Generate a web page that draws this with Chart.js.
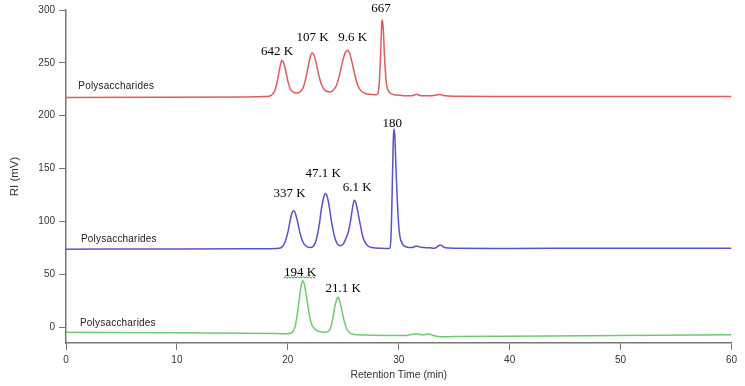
<!DOCTYPE html>
<html>
<head>
<meta charset="utf-8">
<script src="https://cdn.jsdelivr.net/npm/chart.js@4.4.1/dist/chart.umd.min.js"></script>
<style>
  html, body { margin: 0; padding: 0; background: #ffffff; }
  #wrap { width: 745px; height: 386px; }
</style>
</head>
<body>
<div id="wrap"><canvas id="c" width="745" height="386"></canvas></div>
<script>
// ---- Data ----
const redTimes  = [0, 8, 16, 18, 18.5, 18.8, 19.0, 19.2, 19.35, 19.47, 19.6, 19.8, 20.0, 20.2, 20.45, 20.8, 21.1, 21.4, 21.65, 21.9, 22.05, 22.2, 22.35, 22.55, 22.8, 23.05, 23.35, 23.8, 24.1, 24.4, 24.7, 24.95, 25.15, 25.35, 25.55, 25.8, 26.05, 26.3, 26.6, 27.0, 27.5, 27.95, 28.12, 28.25, 28.37, 28.47, 28.52, 28.6, 28.72, 28.85, 29.0, 29.3, 29.8, 30.5, 31.2, 31.6, 32.0, 32.8, 33.7, 34.2, 35, 40, 50, 60];
const redValues = [217.2, 217.5, 217.8, 218.1, 219.3, 223, 230, 241, 249, 252.5, 250.5, 243, 233, 226, 222.5, 221.5, 222.5, 227, 237, 250, 257, 259.5, 257.5, 250, 238, 229, 224, 222.5, 224, 229, 240, 252, 259, 262, 259.5, 250, 238, 229, 223.5, 221, 220.2, 219.8, 221, 232, 260, 288, 290.5, 283, 255, 234, 225, 221, 219.5, 219, 218.9, 220.3, 219, 218.8, 220, 218.8, 218.4, 218.2, 218.1, 218.2];

const blueTimes  = [0, 10, 18, 19.2, 19.5, 19.8, 20.05, 20.25, 20.4, 20.52, 20.65, 20.85, 21.05, 21.3, 21.6, 22.0, 22.3, 22.55, 22.85, 23.0, 23.2, 23.38, 23.55, 23.75, 23.95, 24.2, 24.45, 24.72, 25.0, 25.2, 25.45, 25.65, 25.85, 26.0, 26.15, 26.35, 26.55, 26.8, 27.2, 27.7, 28.4, 29.15, 29.3, 29.4, 29.5, 29.57, 29.65, 29.75, 29.85, 29.97, 30.1, 30.35, 30.7, 31.2, 31.6, 32.0, 32.8, 33.2, 33.75, 34.2, 35, 40, 50, 60];
const blueValues = [73.8, 74.0, 74.2, 74.6, 76.0, 82, 92, 103, 108.5, 110, 108.5, 101, 91, 82, 77, 75.3, 76.5, 82, 98, 110, 121.5, 126.5, 123.5, 113, 99, 86, 79, 77, 78.5, 83, 90, 100, 114, 120, 117, 107, 96, 84, 77, 75.2, 74.6, 74.4, 85, 125, 175, 187.5, 180, 150, 125, 100, 86, 78.5, 75.8, 75.3, 76.8, 75.5, 75, 74.6, 77.8, 75, 74.6, 74.5, 74.6, 74.7];

const greenTimes  = [0, 10, 19, 20.0, 20.4, 20.65, 20.85, 21.05, 21.2, 21.34, 21.5, 21.7, 21.9, 22.1, 22.4, 22.8, 23.3, 23.6, 23.85, 24.05, 24.25, 24.4, 24.51, 24.65, 24.85, 25.05, 25.3, 25.6, 26, 27, 29, 30.7, 31.64, 32.1, 32.7, 33.2, 33.75, 35, 40, 50, 60];
const greenValues = [-4.8, -5.4, -6.1, -6.2, -5, 0, 12, 28, 39, 44, 40, 28, 14, 4, -1.5, -4, -4.8, -4.3, -1, 8, 20, 26, 28.4, 25.5, 17, 7, -1.5, -5.5, -7, -7.5, -7.8, -7.8, -6.3, -7.2, -6.6, -8.2, -9.1, -8.9, -8.5, -7.8, -7.2];

const xTickValues = [0, 10, 20, 30, 40, 50, 60];
const yTickValues = [0, 50, 100, 150, 200, 250, 300];

// Peak annotations (text, retention time, signal value at text baseline)
const peakLabelTexts  = ['667', '642 K', '107 K', '9.6 K', '180', '47.1 K', '337 K', '6.1 K', '194 K', '21.1 K'];
const peakLabelTimes  = [28.39, 19.04, 22.24, 25.85, 29.41, 23.19, 20.15, 26.26, 21.11, 24.99];
const peakLabelValues = [298.1, 257.2, 270.7, 270.7, 189.4, 142.2, 122.8, 128.4, 48.75, 33.1];

// Trace name labels (left-aligned)
const traceLabelTexts  = ['Polysaccharides', 'Polysaccharides', 'Polysaccharides'];
const traceLabelTimes  = [1.11, 1.35, 1.26];
const traceLabelValues = [224.8, 80.4, 0.75];

function toPoints(xs, ys) { return xs.map((x, i) => ({ x: x, y: ys[i] })); }

const labelPlugin = {
  id: 'labels',
  afterDatasetsDraw(chart) {
    const ctx = chart.ctx, xs = chart.scales.x, ys = chart.scales.y;
    ctx.save();
    ctx.fillStyle = '#000';
    ctx.font = '13px "Liberation Serif", "Times New Roman", serif';
    ctx.textAlign = 'center';
    ctx.textBaseline = 'alphabetic';
    peakLabelTexts.forEach((t, i) => {
      const px = xs.getPixelForValue(peakLabelTimes[i]);
      const py = ys.getPixelForValue(peakLabelValues[i]);
      ctx.fillText(t, px, py);
      if (t === '194 K') {
        const w = ctx.measureText(t).width;
        ctx.beginPath();
        ctx.strokeStyle = '#3aa53a';
        ctx.lineWidth = 1;
        let x0 = px - w / 2, x1 = px + w / 2, k = 0;
        ctx.moveTo(x0, py + 2);
        for (let x = x0; x <= x1; x += 1.5, k++) {
          ctx.lineTo(x, py + (k % 2 ? 1 : 2.6));
        }
        ctx.stroke();
      }
    });
    ctx.fillStyle = '#222';
    ctx.font = '10px "Liberation Sans", Arial, sans-serif';
    if ('letterSpacing' in ctx) ctx.letterSpacing = '0.2px';
    ctx.textAlign = 'left';
    traceLabelTexts.forEach((t, i) => {
      ctx.fillText(t, xs.getPixelForValue(traceLabelTimes[i]), ys.getPixelForValue(traceLabelValues[i]));
    });
    ctx.restore();
  }
};

const ds = (xs, ys, color) => ({
  data: toPoints(xs, ys),
  borderColor: color,
  borderWidth: 1.5,
  pointRadius: 0,
  fill: false,
  cubicInterpolationMode: 'monotone'
});

new Chart(document.getElementById('c'), {
  type: 'line',
  data: {
    datasets: [
      ds(redTimes, redValues, 'rgb(222,92,92)'),
      ds(blueTimes, blueValues, 'rgb(84,84,204)'),
      ds(greenTimes, greenValues, 'rgb(108,204,108)')
    ]
  },
  options: {
    responsive: false,
    devicePixelRatio: 1,
    animation: false,
    layout: { padding: { left: 0, right: 13.5, top: 7, bottom: 0 } },
    plugins: { legend: { display: false }, tooltip: { enabled: false } },
    scales: {
      x: {
        type: 'linear',
        min: 0, max: 60,
        afterBuildTicks: s => { s.ticks = xTickValues.map(v => ({ value: v })); },
        afterFit: s => { s.height = 43; },
        grid: { drawOnChartArea: false, drawTicks: true, tickLength: 7, color: '#777', lineWidth: 1 },
        border: { display: true, color: '#777', width: 1.5 },
        ticks: { color: '#333', font: { family: '"Liberation Sans", Arial, sans-serif', size: 10 }, padding: 4, maxRotation: 0 },
        title: { display: true, text: 'Retention Time (min)', color: '#333', font: { family: '"Liberation Sans", Arial, sans-serif', size: 10.4 }, padding: { top: 0, bottom: 4.3 } }
      },
      y: {
        type: 'linear',
        min: -15, max: 300,
        afterBuildTicks: s => { s.ticks = yTickValues.map(v => ({ value: v })); },
        afterFit: s => { s.width = 66; },
        grid: { drawOnChartArea: false, drawTicks: true, tickLength: 7, color: '#777', lineWidth: 1 },
        border: { display: true, color: '#777', width: 1.5 },
        ticks: { color: '#333', font: { family: '"Liberation Sans", Arial, sans-serif', size: 10 }, padding: 4 },
        title: { display: true, text: 'RI (mV)', color: '#333', font: { family: '"Liberation Sans", Arial, sans-serif', size: 11.5 }, padding: { top: 7.6, bottom: 0 } }
      }
    }
  },
  plugins: [labelPlugin]
});
</script>
</body>
</html>
